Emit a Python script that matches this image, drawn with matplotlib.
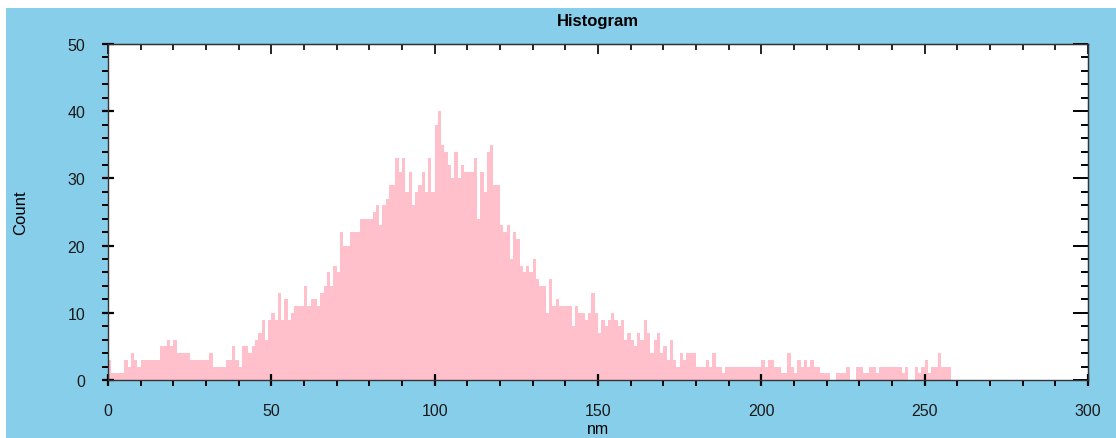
import numpy as np
import matplotlib
matplotlib.use("Agg")
from matplotlib import pyplot as plt
from matplotlib.patches import Rectangle
from matplotlib.ticker import MultipleLocator

# contagem por classe de 1 nm (0..257)
contagens = [
    3, 1, 1, 1, 1, 3, 2, 4, 3, 2,
    3, 3, 3, 3, 3, 3, 5, 5, 6, 5,
    6, 4, 4, 4, 4, 3, 3, 3, 3, 3,
    3, 4, 2, 2, 2, 2, 3, 3, 5, 3,
    2, 5, 5, 4, 5, 6, 7, 9, 6, 9,
    10, 9, 13, 9, 12, 9, 10, 11, 11, 11,
    14, 11, 12, 12, 11, 13, 14, 16, 14, 17,
    16, 22, 20, 20, 22, 22, 22, 24, 24, 24,
    24, 25, 26, 23, 26, 27, 29, 29, 33, 31,
    33, 28, 31, 26, 28, 29, 31, 28, 33, 28,
    38, 40, 35, 34, 32, 30, 34, 30, 32, 31,
    31, 31, 33, 24, 31, 28, 34, 35, 29, 29,
    23, 22, 23, 18, 22, 21, 17, 16, 17, 16,
    18, 15, 14, 14, 10, 15, 11, 12, 11, 11,
    11, 11, 8, 11, 10, 10, 9, 10, 13, 10,
    7, 9, 8, 9, 10, 9, 8, 9, 6, 7,
    6, 5, 7, 6, 9, 7, 4, 6, 7, 4,
    5, 3, 6, 3, 2, 4, 3, 4, 4, 4,
    2, 2, 2, 3, 2, 4, 2, 2, 1, 2,
    2, 2, 2, 2, 2, 2, 2, 2, 2, 2,
    3, 2, 3, 3, 2, 2, 1, 1, 4, 2,
    1, 3, 2, 3, 2, 3, 2, 2, 1, 1,
    1, 0, 0, 1, 1, 1, 2, 0, 0, 2,
    2, 1, 1, 2, 2, 1, 2, 2, 2, 2,
    2, 2, 2, 1, 2, 0, 0, 2, 1, 2,
    3, 1, 2, 2, 4, 2, 2, 2,
]
bordas = np.arange(len(contagens))

titulo = "Histogram"
rotulo_x = "nm"
rotulo_y = "Count"

azul = "#87ceeb"
rosa = "#ffc0cb"

plt.rcParams["font.family"] = ["Liberation Sans", "DejaVu Sans"]

fig = plt.figure(figsize=(11.16, 4.39), dpi=100, facecolor="white")
# fundo azul com uma margem branca no topo e a esquerda
fig.patches.append(Rectangle((6 / 1116, 0), 1, 1 - 9 / 439, transform=fig.transFigure,
                             facecolor=azul, edgecolor="none", zorder=-10))

ax = fig.add_axes([108 / 1116, 1 - 381 / 439, 980 / 1116, 336 / 439])
ax.set_facecolor("white")
ax.bar(bordas, contagens, width=1.0, align="edge", color=rosa, linewidth=0)

ax.set_xlim(0, 300)
ax.set_ylim(0, 50)
ax.xaxis.set_major_locator(MultipleLocator(50))
ax.xaxis.set_minor_locator(MultipleLocator(10))
ax.yaxis.set_major_locator(MultipleLocator(10))
ax.yaxis.set_minor_locator(MultipleLocator(2))
ax.tick_params(which="major", direction="inout", length=9, width=1.6, labelsize=11.5,
               colors="black", labelcolor="#1a1a1a")
ax.tick_params(which="minor", direction="out", length=4, width=1.4)
ax.tick_params(axis="x", pad=12)
ax.tick_params(axis="y", pad=12)
for lado in ax.spines.values():
    lado.set_color("#333333")
    lado.set_linewidth(1.0)

# marcas internas no topo e a direita
topo = ax.secondary_xaxis("top")
topo.xaxis.set_major_locator(MultipleLocator(50))
topo.xaxis.set_minor_locator(MultipleLocator(10))
topo.tick_params(which="major", direction="in", length=7, width=1.2, labeltop=False)
topo.tick_params(which="minor", direction="in", length=4, width=1.2)
direita = ax.secondary_yaxis("right")
direita.yaxis.set_major_locator(MultipleLocator(10))
direita.yaxis.set_minor_locator(MultipleLocator(2))
direita.tick_params(which="major", direction="in", length=11, width=1.4, labelright=False)
direita.tick_params(which="minor", direction="in", length=5, width=1.4)

ax.set_title(titulo, fontsize=12, fontweight="bold", pad=14)
ax.set_xlabel(rotulo_x, fontsize=11.5, labelpad=2)
ax.set_ylabel(rotulo_y, fontsize=12, labelpad=28)

fig.savefig("out.png", dpi=100, facecolor=fig.get_facecolor())
